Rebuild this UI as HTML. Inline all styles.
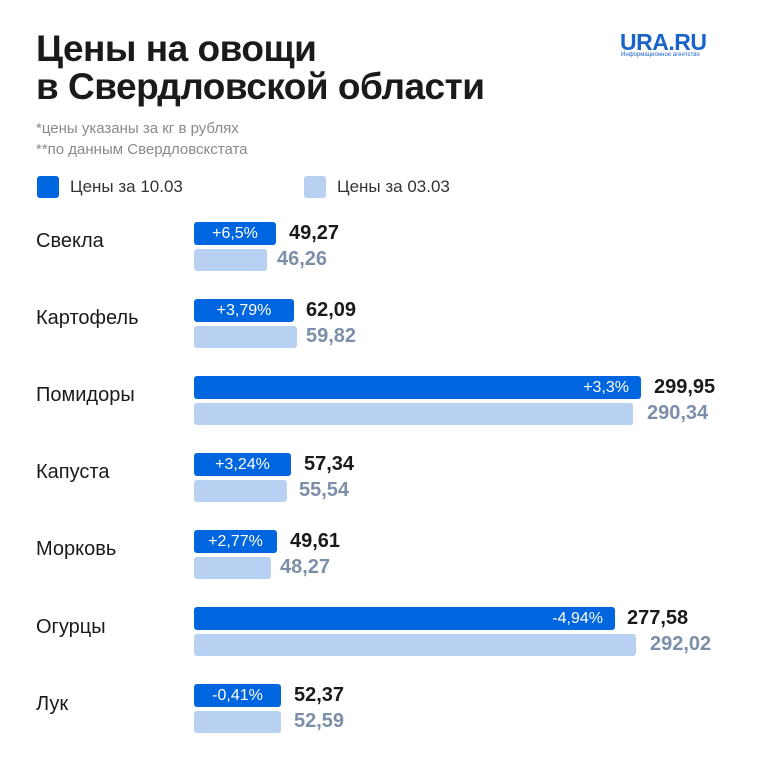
<!DOCTYPE html>
<html><head><meta charset="utf-8"><style>
body{margin:0;width:760px;height:760px;background:#fff;font-family:"Liberation Sans",sans-serif;position:relative;overflow:hidden}
.a{position:absolute;white-space:nowrap}
.t{left:36px;font-size:37px;font-weight:bold;color:#1a1a1a;letter-spacing:-0.5px;line-height:38px}
.s{left:36px;font-size:15px;color:#8a8a8a}
.lab{left:36px;font-size:20px;color:#1a1a1a}
.b{left:194px;height:23px;background:#0066e0;border-radius:3px;color:#fff;font-size:16px;line-height:23px;box-sizing:border-box}
.l{left:194px;height:22px;background:#b8d0f2;border-radius:3px}
.v1{font-size:20px;font-weight:bold;color:#1a1a1a}
.v2{font-size:20px;font-weight:bold;color:#7d8fa8}
</style></head><body>
<div class="a t" style="top:30px">Цены на овощи</div>
<div class="a t" style="top:68px">в Свердловской области</div>
<div class="a" style="left:620px;top:29px;font-size:23px;font-weight:bold;color:#1a64c8;letter-spacing:-0.5px">URA.RU</div>
<div class="a" style="left:621px;top:52px;font-size:6px;color:#1a64c8">Информационное агентство</div>
<div class="a s" style="top:120px">*цены указаны за кг в рублях</div>
<div class="a s" style="top:141px">**по данным Свердловскстата</div>
<div class="a" style="left:37px;top:176px;width:22px;height:22px;background:#0066e0;border-radius:3px"></div>
<div class="a" style="left:70px;top:177px;font-size:17px;color:#333">Цены за 10.03</div>
<div class="a" style="left:304px;top:176px;width:22px;height:22px;background:#b8d0f2;border-radius:3px"></div>
<div class="a" style="left:337px;top:177px;font-size:17px;color:#333">Цены за 03.03</div>

<div class="a lab" style="top:230px">Свекла</div>
<div class="a b" style="top:222px;width:82px;text-align:center">+6,5%</div>
<div class="a v1" style="left:289px;top:222px">49,27</div>
<div class="a l" style="top:249px;width:73px"></div>
<div class="a v2" style="left:277px;top:248px">46,26</div>

<div class="a lab" style="top:307px">Картофель</div>
<div class="a b" style="top:299px;width:100px;text-align:center">+3,79%</div>
<div class="a v1" style="left:306px;top:299px">62,09</div>
<div class="a l" style="top:326px;width:103px"></div>
<div class="a v2" style="left:306px;top:325px">59,82</div>

<div class="a lab" style="top:384px">Помидоры</div>
<div class="a b" style="top:376px;width:447px;text-align:right;padding-right:12px">+3,3%</div>
<div class="a v1" style="left:654px;top:376px">299,95</div>
<div class="a l" style="top:403px;width:439px"></div>
<div class="a v2" style="left:647px;top:402px">290,34</div>

<div class="a lab" style="top:461px">Капуста</div>
<div class="a b" style="top:453px;width:97px;text-align:center">+3,24%</div>
<div class="a v1" style="left:304px;top:453px">57,34</div>
<div class="a l" style="top:480px;width:93px"></div>
<div class="a v2" style="left:299px;top:479px">55,54</div>

<div class="a lab" style="top:538px">Морковь</div>
<div class="a b" style="top:530px;width:83px;text-align:center">+2,77%</div>
<div class="a v1" style="left:290px;top:530px">49,61</div>
<div class="a l" style="top:557px;width:77px"></div>
<div class="a v2" style="left:280px;top:556px">48,27</div>

<div class="a lab" style="top:616px">Огурцы</div>
<div class="a b" style="top:607px;width:421px;text-align:right;padding-right:12px">-4,94%</div>
<div class="a v1" style="left:627px;top:607px">277,58</div>
<div class="a l" style="top:634px;width:442px"></div>
<div class="a v2" style="left:650px;top:633px">292,02</div>

<div class="a lab" style="top:693px">Лук</div>
<div class="a b" style="top:684px;width:87px;text-align:center">-0,41%</div>
<div class="a v1" style="left:294px;top:684px">52,37</div>
<div class="a l" style="top:711px;width:87px"></div>
<div class="a v2" style="left:294px;top:710px">52,59</div>
</body></html>
